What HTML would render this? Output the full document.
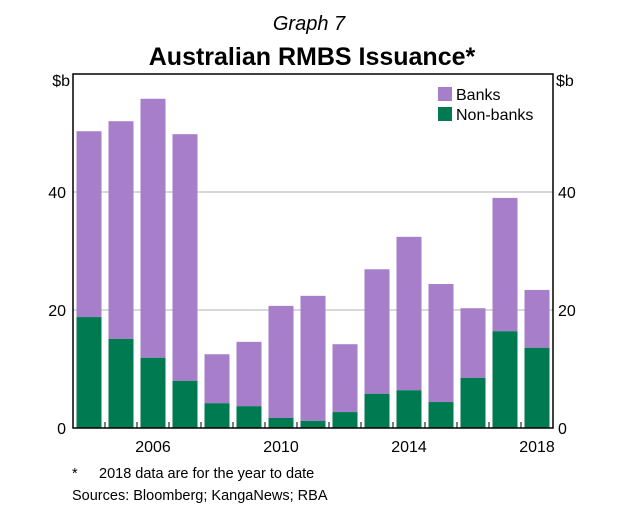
<!DOCTYPE html>
<html><head><meta charset="utf-8"><style>
body{margin:0;background:#fff;}
svg text{font-family:"Liberation Sans",Arial,sans-serif;fill:#000;}
</style></head><body>
<svg width="618" height="520">
<text x="309" y="30" font-size="20" font-style="italic" text-anchor="middle">Graph 7</text>
<text x="312" y="65" font-size="25" font-weight="bold" text-anchor="middle">Australian RMBS Issuance*</text>
<g id="grid"></g>
<g id="bars"></g>
<rect x="73" y="74" width="480" height="354" fill="none" stroke="#000" stroke-width="1.5"/>
<g id="axes"></g>
<g>
<rect x="438" y="87" width="14" height="14" fill="#a77ec9"/>
<text x="456" y="100" font-size="16">Banks</text>
<rect x="438" y="107" width="14" height="14" fill="#007a50"/>
<text x="456" y="120" font-size="16">Non-banks</text>
</g>
<text x="72" y="478" font-size="14.5">*</text>
<text x="99" y="478" font-size="14.5">2018 data are for the year to date</text>
<text x="72" y="500" font-size="14.5">Sources:   Bloomberg; KangaNews; RBA</text>
</svg>
<script>
const years=[2004,2005,2006,2007,2008,2009,2010,2011,2012,2013,2014,2015,2016,2017,2018];
const totals=[50.3,52.0,55.8,49.8,12.5,14.6,20.7,22.4,14.2,26.9,32.4,24.4,20.3,39.0,23.4];
const nonBanks=[18.8,15.1,11.9,8.0,4.2,3.7,1.7,1.2,2.7,5.8,6.4,4.4,8.5,16.4,13.6];
const yTicks=[0,20,40];
const xLabels=[2006,2010,2014,2018];
const NS="http://www.w3.org/2000/svg";
const y=v=>428-v*(354/60);
const x=yr=>89+(yr-2004)*32;
function mk(tag,attrs,parent,text){const e=document.createElementNS(NS,tag);for(const k in attrs)e.setAttribute(k,attrs[k]);if(text!==undefined)e.textContent=text;document.getElementById(parent).appendChild(e);return e;}
yTicks.forEach(t=>{
 if(t>0){const g=mk('line',{x1:73,x2:553,y1:y(t),y2:y(t),stroke:'#b0b0b0','stroke-width':1},'grid');
 
 }
 const l=mk('text',{x:66,y:y(t)+6,'font-size':16,'text-anchor':'end'},'axes',t);
 
 
 const r=mk('text',{x:558,y:y(t)+6,'font-size':16},'axes',t);
 
 
});
const ul=mk('text',{x:70,y:y(60)+12,'font-size':16,'text-anchor':'end'},'axes','$b');


const ur=mk('text',{x:556,y:y(60)+12,'font-size':16},'axes','$b');


years.forEach((yr,i)=>{
 const b=mk('rect',{x:x(yr)-12.5,y:y(totals[i]),width:25,height:y(nonBanks[i])-y(totals[i]),fill:'#a77ec9'},'bars');
 
 
 const n=mk('rect',{x:x(yr)-12.5,y:y(nonBanks[i]),width:25,height:428-y(nonBanks[i]),fill:'#007a50'},'bars');
 
 
 if(i>0){const tk=mk('line',{x1:x(yr)-16,x2:x(yr)-16,y1:428,y2:422,stroke:'#000','stroke-width':1},'axes');
 
 }
});
xLabels.forEach(yr=>{
 const t=mk('text',{x:x(yr),y:452,'font-size':16,'text-anchor':'middle'},'axes',yr);
 
 
});
</script>
</body></html>
